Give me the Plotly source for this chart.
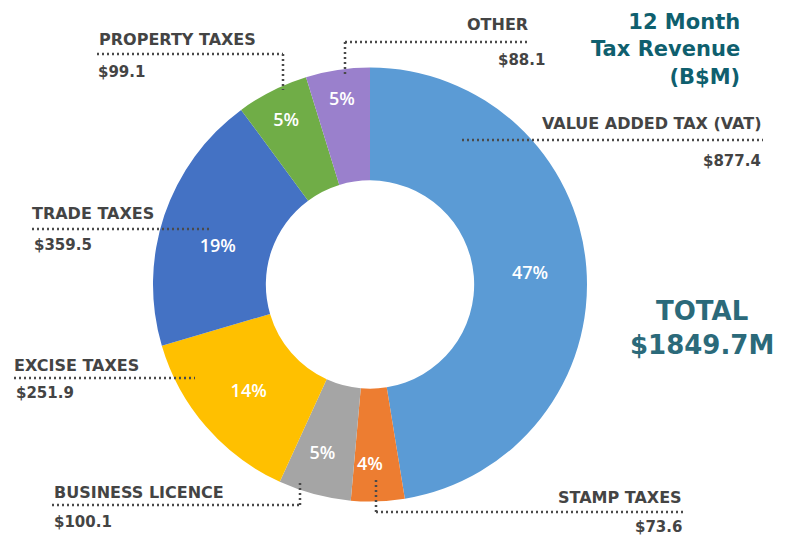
import plotly.graph_objects as go

categories = ["VALUE ADDED TAX (VAT)", "STAMP TAXES", "BUSINESS LICENCE",
              "EXCISE TAXES", "TRADE TAXES", "PROPERTY TAXES", "OTHER"]
values = [877.4, 73.6, 100.1, 251.9, 359.5, 99.1, 88.1]
value_labels = ["$877.4", "$73.6", "$100.1", "$251.9", "$359.5", "$99.1", "$88.1"]
colors = ["#5B9BD5", "#ED7D31", "#A5A5A5", "#FFC000", "#4472C4", "#70AD47", "#9A80CC"]
total_label = "$%.1fM" % sum(values)

# page has an 8px body margin; map reference pixel coords into figure paper coords
OFF = 8
W, H = 788 - OFF, 538 - OFF
def px(x):
    return (x - OFF) / W
def py(y):
    return 1 - (y - OFF) / H

pct = "%{percent:.0%}"
templates = [pct, pct + "<br> ", pct + "<br> ", pct, " <br>" + pct, pct, pct]

fig = go.Figure()
fig.add_trace(go.Pie(
    labels=categories, values=values, sort=False, direction="clockwise", rotation=0,
    hole=0.48, marker=dict(colors=colors, line=dict(width=0)),
    texttemplate=templates, textposition="inside", insidetextorientation="horizontal",
    insidetextfont=dict(color="white", size=18, family="Open Sans", weight=600),
    domain=dict(x=[px(153), px(587)], y=[py(502), py(67)]),
    showlegend=False, hoverinfo="label+value+percent",
))

label_font = dict(family="DejaVu Sans", size=16, color="#444444", weight="bold")
value_font = dict(family="DejaVu Sans", size=15, color="#444444", weight="bold")

# (category index, label x, label y, anchor, value x, value y, leader line points)
layout_spec = [
    (0, 763, 124, "right", 763, 161, [(462, 140), (763, 140)]),
    (1, 684, 497, "right", 684, 527, [(376, 480), (376, 512), (684, 512)]),
    (2, 52, 492, "left", 52, 522, [(52, 505), (300, 505), (300, 482)]),
    (3, 12, 365, "left", 14, 393, [(14, 378), (195, 378)]),
    (4, 30, 213, "left", 32, 245, [(32, 229), (212, 229)]),
    (5, 97, 40, "left", 96, 72, [(97, 54), (283, 54), (283, 90)]),
    (6, 530, 25, "right", 547, 60, [(345, 74), (345, 42), (530, 42)]),
]

annotations = []
shapes = []
for idx, lx, ly, anc, vx, vy, pts in layout_spec:
    annotations.append(dict(text=categories[idx], x=px(lx), y=py(ly), xref="paper", yref="paper",
                            xanchor=anc, yanchor="middle", showarrow=False, font=label_font))
    annotations.append(dict(text=value_labels[idx], x=px(vx), y=py(vy), xref="paper", yref="paper",
                            xanchor=anc, yanchor="middle", showarrow=False, font=value_font))
    for (x0, y0), (x1, y1) in zip(pts[:-1], pts[1:]):
        shapes.append(dict(type="line", xref="paper", yref="paper",
                           x0=px(x0), y0=py(y0), x1=px(x1), y1=py(y1),
                           line=dict(color="#4a4a4a", width=2.5, dash="2px,3px")))

annotations.append(dict(text="12 Month<br>Tax Revenue<br>(B$M)", x=px(742), y=py(8),
                        xref="paper", yref="paper", xanchor="right", yanchor="top",
                        align="right", showarrow=False,
                        font=dict(family="DejaVu Sans", size=21, color="#0F5F6E", weight="bold")))
annotations.append(dict(text="TOTAL<br>" + total_label, x=px(702), y=py(328),
                        xref="paper", yref="paper", xanchor="center", yanchor="middle",
                        align="center", showarrow=False,
                        font=dict(family="DejaVu Sans", size=26, color="#2B6A7A", weight="bold")))

fig.update_layout(width=W, height=H, margin=dict(l=0, r=0, t=0, b=0),
                  paper_bgcolor="white", plot_bgcolor="white",
                  annotations=annotations, shapes=shapes)

fig.write_html("out.html")
